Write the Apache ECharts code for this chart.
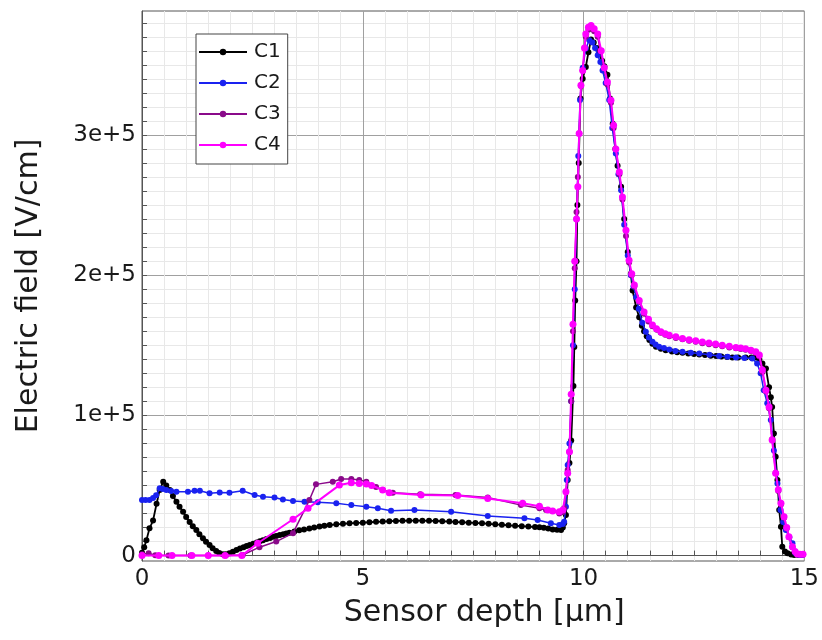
<!DOCTYPE html>
<html>
<head>
<meta charset="utf-8">
<script src="https://cdn.jsdelivr.net/npm/echarts@6/dist/echarts.min.js"></script>
<style>
html,body{margin:0;padding:0;background:#fff;}
#chart{width:822px;height:640px;}
</style>
</head>
<body>
<div id="chart"></div>
<script>
// ---- data (x: sensor depth [µm], y: electric field [V/cm]) ----
const seriesNames = ['C1', 'C2', 'C3', 'C4'];

const c1 = [[0,2000],[0.05,6000],[0.1,11000],[0.17,19500],[0.25,25000],[0.33,37000],[0.4,46700],[0.48,52700],[0.55,50000],[0.63,46700],[0.7,42500],[0.78,38400],[0.85,34800],[0.93,31300],[1.0,27600],[1.08,24000],[1.15,21000],[1.23,18200],[1.3,15200],[1.38,12300],[1.45,9800],[1.53,7500],[1.6,5300],[1.68,3300],[1.75,1800],[1.83,900],[1.9,1000],[1.98,1600],[2.06,2800],[2.14,4000],[2.22,5000],[2.3,6000],[2.37,6800],[2.44,7500],[2.52,8400],[2.6,9300],[2.67,10200],[2.74,11000],[2.82,11800],[2.9,12600],[2.97,13400],[3.04,14000],[3.12,14700],[3.2,15300],[3.27,15800],[3.34,16300],[3.45,17200],[3.56,18000],[3.67,18700],[3.79,19400],[3.9,20100],[4.02,20700],[4.13,21300],[4.25,21800],[4.4,22300],[4.55,22700],[4.7,23000],[4.85,23300],[5.0,23500],[5.15,23800],[5.3,24100],[5.45,24300],[5.6,24500],[5.75,24700],[5.9,24800],[6.05,24900],[6.2,24900],[6.35,24900],[6.5,24800],[6.65,24700],[6.8,24500],[6.96,24300],[7.1,24000],[7.25,23800],[7.4,23500],[7.55,23300],[7.7,23000],[7.85,22700],[8.0,22300],[8.15,22000],[8.3,21600],[8.45,21300],[8.6,21000],[8.75,20700],[8.9,20400],[9.0,20200],[9.1,19800],[9.2,19300],[9.3,18700],[9.4,18400],[9.49,18200],[9.53,20000],[9.56,23000],[9.6,29000],[9.64,54000],[9.68,66000],[9.72,82000],[9.77,121000],[9.79,148700],[9.81,182000],[9.84,210000],[9.86,250000],[9.89,280000],[9.93,326000],[9.98,340000],[10.05,348500],[10.11,359000],[10.17,368000],[10.23,366000],[10.3,362000],[10.36,358000],[10.42,353000],[10.47,349000],[10.54,343000],[10.6,326000],[10.66,308000],[10.72,290000],[10.77,278000],[10.85,263000],[10.92,240000],[11.0,216600],[11.07,201000],[11.11,189000],[11.19,177000],[11.26,170000],[11.32,164000],[11.37,160000],[11.43,156500],[11.49,153700],[11.56,151000],[11.64,149000],[11.75,147500],[11.86,146500],[12.0,145600],[12.12,145000],[12.24,144600],[12.37,144200],[12.5,143800],[12.62,143500],[12.75,143000],[12.88,142600],[13.0,142300],[13.12,142000],[13.25,141600],[13.37,141300],[13.5,141300],[13.67,141300],[13.8,141300],[13.9,141300],[13.98,140000],[14.05,137000],[14.13,133500],[14.2,120000],[14.24,113000],[14.27,106000],[14.31,87000],[14.35,70500],[14.39,54000],[14.43,32500],[14.47,20600],[14.5,6300],[14.56,3000],[14.62,1600],[14.7,800],[14.77,400],[14.86,400],[14.95,400]];

const c2 = [[0,39600],[0.08,39600],[0.17,39600],[0.25,41000],[0.32,43000],[0.4,48000],[0.47,47500],[0.55,46800],[0.66,46000],[0.78,45500],[1.04,45500],[1.19,46300],[1.31,46300],[1.53,44400],[1.76,45000],[1.98,44800],[2.28,46300],[2.55,43200],[2.74,42000],[3.0,41500],[3.19,40000],[3.42,38900],[3.68,38400],[3.98,38000],[4.4,37300],[4.74,36000],[5.08,34800],[5.34,33700],[5.64,32000],[6.17,32500],[7.0,31300],[7.83,28200],[8.66,26600],[8.96,25400],[9.26,23000],[9.45,21800],[9.53,22500],[9.56,24200],[9.6,34800],[9.62,54000],[9.64,64600],[9.68,80000],[9.72,110000],[9.76,150000],[9.8,190000],[9.84,240000],[9.88,285000],[9.92,325000],[9.98,348000],[10.05,361600],[10.13,367500],[10.2,366000],[10.26,362000],[10.32,356800],[10.38,352000],[10.43,346000],[10.5,337000],[10.58,325000],[10.65,305000],[10.73,286700],[10.79,272000],[10.85,260600],[10.92,236000],[11.0,214000],[11.07,200000],[11.13,192000],[11.19,184500],[11.25,176000],[11.33,166000],[11.41,159600],[11.48,155500],[11.56,152500],[11.63,150500],[11.71,149000],[11.82,148000],[11.94,147000],[12.08,146000],[12.24,145300],[12.43,144700],[12.62,144200],[12.85,143200],[13.07,142300],[13.26,141800],[13.45,141300],[13.64,141000],[13.82,140600],[13.93,137000],[14.01,130000],[14.08,118000],[14.16,108600],[14.24,96700],[14.31,75000],[14.39,51500],[14.46,32500],[14.52,24000],[14.58,18200],[14.66,13000],[14.73,8800],[14.8,1600],[14.88,600],[14.95,400]];

const c3 = [[0,1000],[0.15,1600],[0.3,300],[0.6,0],[1.1,0],[1.5,0],[1.9,0],[2.28,400],[2.66,6000],[3.04,10000],[3.42,16000],[3.79,39600],[3.94,50800],[4.32,52700],[4.51,54600],[4.74,54600],[4.92,54000],[5.08,52700],[5.3,49000],[5.45,46800],[5.68,44800],[6.3,43800],[7.1,43200],[7.83,41500],[8.58,36000],[9.0,33700],[9.15,32500],[9.45,30100],[9.53,31000],[9.56,33700],[9.6,45500],[9.64,61000],[9.68,74000],[9.72,110000],[9.76,160000],[9.8,205000],[9.84,245000],[9.87,270000],[9.9,301000],[9.94,335000],[9.98,346000],[10.05,370000],[10.11,375000],[10.17,376000],[10.24,374000],[10.32,370000],[10.38,360000],[10.46,348000],[10.54,336000],[10.62,323000],[10.68,305000],[10.73,290000],[10.81,272000],[10.88,254000],[10.96,228000],[11.03,209000],[11.09,200000],[11.15,192000],[11.26,181000],[11.37,172500],[11.47,167000],[11.56,163500],[11.66,161000],[11.75,159000],[11.85,157500],[11.94,156500],[12.09,155200],[12.24,154300],[12.39,153300],[12.54,152500],[12.69,151500],[12.84,150800],[12.99,150000],[13.14,149300],[13.3,148500],[13.45,147800],[13.56,147300],[13.67,146800],[13.79,146000],[13.9,144500],[13.98,142000],[14.05,131000],[14.13,117000],[14.2,105000],[14.27,83000],[14.35,59000],[14.41,46000],[14.47,36500],[14.54,27000],[14.6,19500],[14.65,13000],[14.73,6000],[14.79,2500],[14.84,1100],[14.91,900],[14.97,900]];

const c4 = [[0,0],[0.38,0],[0.68,0],[1.13,0],[1.5,0],[1.88,0],[2.26,0],[2.62,8800],[3.42,25900],[3.76,33700],[4.47,50300],[4.74,52000],[4.92,51500],[5.08,51000],[5.2,50000],[5.45,46800],[5.6,44800],[6.32,43200],[7.15,42800],[7.83,40800],[8.62,37300],[9.0,35200],[9.19,32500],[9.3,31800],[9.45,31300],[9.53,32500],[9.6,45500],[9.64,58700],[9.68,74000],[9.72,115000],[9.76,165000],[9.8,210000],[9.84,240000],[9.87,263000],[9.9,301000],[9.94,335400],[9.98,346000],[10.02,362000],[10.05,372000],[10.11,376800],[10.17,378000],[10.24,375800],[10.32,372000],[10.4,360000],[10.47,348000],[10.54,337800],[10.62,324700],[10.68,307000],[10.73,290000],[10.81,273600],[10.88,255800],[10.96,232000],[11.03,210700],[11.09,201000],[11.15,193000],[11.26,182000],[11.37,173800],[11.47,168500],[11.56,164400],[11.65,161800],[11.75,159600],[11.85,158300],[11.94,157200],[12.09,156000],[12.24,154900],[12.39,154000],[12.54,153200],[12.69,152400],[12.84,151700],[12.99,150900],[13.14,150100],[13.3,149300],[13.45,148500],[13.56,148000],[13.67,147500],[13.79,146500],[13.9,145300],[13.98,143000],[14.05,132300],[14.13,118000],[14.2,106000],[14.27,82400],[14.35,58700],[14.41,47000],[14.47,37300],[14.54,27700],[14.6,20000],[14.65,13500],[14.73,6300],[14.79,3000],[14.84,1100],[14.9,1000],[14.97,1000]];

// ---- ticks ----
const xTickValues = [0, 5, 10, 15];
const yTickValues = [0, 100000, 200000, 300000];
const yTickLabels = ['0', '1e+5', '2e+5', '3e+5'];
const yMinorStep = 10000;
const yMinorTicks = [];
for (let v = 0; v <= 380000; v += yMinorStep) {
  if (v % 100000 !== 0) yMinorTicks.push(v);
}

const seriesData = [c1, c2, c3, c4];
const colors = ['#000000', '#1a22f0', '#8a0a8a', '#ff00ff'];
const symbolSizes = [6, 6, 6, 7];
const lineWidths = [1.8, 1.5, 1.5, 2];

const Y_MIN = -3850, Y_MAX = 388400;
const FONT = 'DejaVu Sans';
const TXT = '#1a1a1a';

const chart = echarts.init(document.getElementById('chart'), null, {renderer: 'canvas'});
chart.setOption({
  animation: false,
  backgroundColor: '#ffffff',
  color: colors,
  grid: {left: 142, right: 16, top: 11, bottom: 79, show: true, borderColor: '#555', borderWidth: 1, backgroundColor: 'transparent'},
  legend: {
    orient: 'vertical',
    left: 196, top: 34,
    data: seriesNames,
    backgroundColor: '#ffffff',
    borderColor: '#444', borderWidth: 1,
    padding: [8, 7, 9, 2],
    itemWidth: 48, itemHeight: 8, itemGap: 11,
    textStyle: {fontFamily: FONT, fontSize: 20, color: TXT, padding: [0, 0, 0, 2]}
  },
  xAxis: {
    type: 'value', min: 0, max: 15, interval: 5,
    name: 'Sensor depth [μm]', nameLocation: 'middle', nameGap: 37,
    nameTextStyle: {fontFamily: FONT, fontSize: 30, color: TXT, padding: [0, 0, 0, 22]},
    axisLine: {show: true, lineStyle: {color: '#555', width: 1}},
    axisTick: {show: true, inside: true, length: 5, lineStyle: {color: '#555'}},
    minorTick: {show: true, splitNumber: 10, length: 5, lineStyle: {color: '#555'}},
    axisLabel: {fontFamily: FONT, fontSize: 23, color: TXT, margin: 7,
      formatter: function (v) { return xTickValues.indexOf(v) >= 0 ? String(v) : ''; }},
    splitLine: {show: true, lineStyle: {color: '#a0a0a0', width: 1}},
    minorSplitLine: {show: true, lineStyle: {color: '#e8e8e8', width: 1}}
  },
  yAxis: [{
    type: 'value', min: Y_MIN, max: Y_MAX, position: 'left',
    name: 'Electric field [V/cm]', nameLocation: 'middle', nameGap: 98,
    nameTextStyle: {fontFamily: FONT, fontSize: 30, color: TXT},
    axisLine: {show: true, lineStyle: {color: '#555', width: 1}},
    axisTick: {show: true, inside: true, length: 5, customValues: yTickValues, lineStyle: {color: '#555'}},
    axisLabel: {fontFamily: FONT, fontSize: 23, color: TXT, margin: 6, customValues: yTickValues,
      formatter: function (v) { const i = yTickValues.indexOf(v); return i >= 0 ? yTickLabels[i] : ''; }},
    splitLine: {show: true, lineStyle: {color: '#a0a0a0', width: 1}}
  }, {
    type: 'value', min: Y_MIN, max: Y_MAX, position: 'left',
    axisLine: {show: false},
    axisTick: {show: true, inside: true, length: 5, customValues: yMinorTicks, lineStyle: {color: '#555'}},
    axisLabel: {show: false, customValues: yMinorTicks},
    splitLine: {show: true, lineStyle: {color: '#e8e8e8', width: 1}}
  }],
  series: seriesNames.map(function (name, i) {
    return {
      name: name, type: 'line', yAxisIndex: 0,
      data: seriesData[i],
      symbol: 'circle', symbolSize: symbolSizes[i], showSymbol: true,
      lineStyle: {color: colors[i], width: lineWidths[i]},
      itemStyle: {color: colors[i]},
      z: 2 + i
    };
  })
});
</script>
</body>
</html>
